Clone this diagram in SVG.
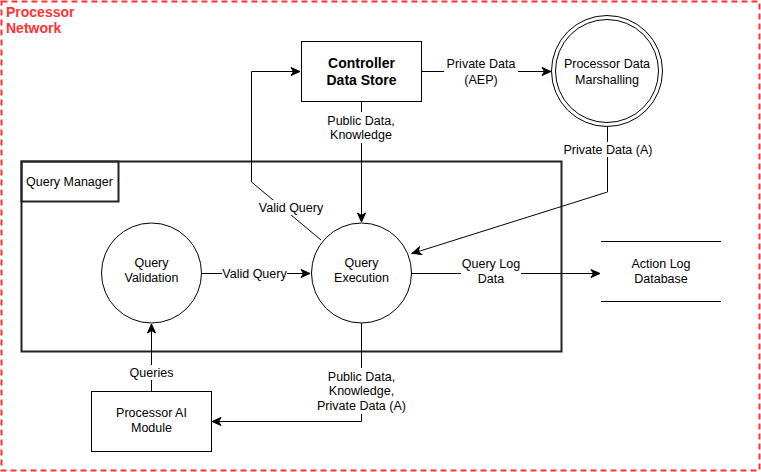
<svg xmlns="http://www.w3.org/2000/svg" width="761" height="472" viewBox="0 0 761 472">
<style>
text{font-family:"Liberation Sans",Arial,sans-serif;font-size:12.5px;fill:#000;text-anchor:middle}
.b{font-weight:bold;font-size:14px}
.red{fill:#FF3333;font-weight:bold;font-size:14px;text-anchor:start}
.ln{fill:none;stroke:#000;stroke-width:1}
.shape{fill:#fff;stroke:#000;stroke-width:1}
.lbl{fill:#fff;stroke:none}
</style>
<defs>
<marker id="arr" markerUnits="userSpaceOnUse" markerWidth="12" markerHeight="12" refX="10" refY="5" orient="auto">
<path d="M1,1 L10,5 L1,9 L3.5,5 z" fill="#000" stroke="#000" stroke-width="1"/>
</marker>
</defs>
<rect width="761" height="472" fill="#fff"/>
<g id="processor-network">
<rect x="1.5" y="1.5" width="758" height="469" fill="none" stroke="#FF3333" stroke-width="2" stroke-dasharray="6 4"/>
<text class="red" x="6" y="17">Processor</text>
<text class="red" x="6" y="33">Network</text>
</g>
<g id="query-manager">
<rect x="21.5" y="161.5" width="540" height="190" fill="none" stroke="#222" stroke-width="2"/>
<rect x="21.5" y="161.5" width="97" height="40" fill="none" stroke="#222" stroke-width="2"/>
<text x="26" y="185.5" style="text-anchor:start">Query Manager</text>
</g>
<g id="connectors">
<path class="ln" d="M421.5,71.5 H551" marker-end="url(#arr)"/>
<rect class="lbl" x="444" y="56" width="74" height="32"/>
<text x="481" y="68">Private Data</text>
<text x="481" y="84">(AEP)</text>
<path class="ln" d="M361.5,101.5 V222" marker-end="url(#arr)"/>
<rect class="lbl" x="324" y="112" width="75" height="31"/>
<text x="361" y="124.5">Public Data,</text>
<text x="361" y="139">Knowledge</text>
<path class="ln" d="M607.5,127 V192 L412,253.5" marker-end="url(#arr)"/>
<rect class="lbl" x="562" y="142" width="92" height="15"/>
<text x="608" y="154">Private Data (A)</text>
<path class="ln" d="M321,240 L251.5,182 V71.5 H300" marker-end="url(#arr)"/>
<rect class="lbl" x="258" y="200" width="66" height="15"/>
<text x="291" y="212">Valid Query</text>
<path class="ln" d="M201,273.5 H310" marker-end="url(#arr)"/>
<rect class="lbl" x="222" y="266" width="65" height="15"/>
<text x="254.5" y="277.5">Valid Query</text>
<path class="ln" d="M411,273.5 H600" marker-end="url(#arr)"/>
<rect class="lbl" x="461" y="256" width="60" height="31"/>
<text x="491" y="268">Query Log</text>
<text x="491" y="283">Data</text>
<path class="ln" d="M151.5,391 V324" marker-end="url(#arr)"/>
<rect class="lbl" x="128" y="365" width="46" height="15"/>
<text x="151.5" y="377">Queries</text>
<path class="ln" d="M361.5,323 V421.5 H212" marker-end="url(#arr)"/>
<rect class="lbl" x="314" y="368" width="95" height="46"/>
<text x="361.5" y="380.5">Public Data,</text>
<text x="361.5" y="395">Knowledge,</text>
<text x="361.5" y="409.5">Private Data (A)</text>
</g>
<g id="controller-data-store">
<rect class="shape" x="301.5" y="41.5" width="120" height="60"/>
<text class="b" x="361.5" y="67.5">Controller</text>
<text class="b" x="361.5" y="84.5">Data Store</text>
</g>
<g id="processor-data-marshalling">
<circle class="shape" cx="607" cy="71" r="55.5"/>
<circle class="shape" cx="607" cy="71" r="51.5"/>
<text x="607" y="68">Processor Data</text>
<text x="607" y="83.5">Marshalling</text>
</g>
<g id="query-validation">
<circle class="shape" cx="151.5" cy="273" r="50"/>
<text x="151.5" y="267">Query</text>
<text x="151.5" y="282">Validation</text>
</g>
<g id="query-execution">
<circle class="shape" cx="361.5" cy="273" r="50"/>
<text x="361.5" y="267">Query</text>
<text x="361.5" y="282">Execution</text>
</g>
<g id="action-log-database">
<path class="ln" d="M601,241.5 H721 M601,301.5 H721"/>
<text x="661" y="268">Action Log</text>
<text x="661" y="283">Database</text>
</g>
<g id="processor-ai-module">
<rect class="shape" x="91.5" y="391.5" width="120" height="60"/>
<text x="151.5" y="417">Processor AI</text>
<text x="151.5" y="432">Module</text>
</g>
</svg>
